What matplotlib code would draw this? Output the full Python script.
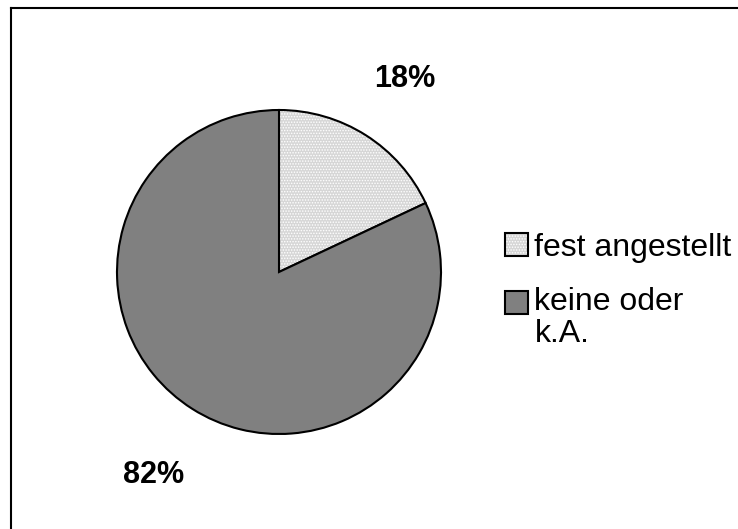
import matplotlib
matplotlib.use("Agg")
import matplotlib.pyplot as plt
from matplotlib.lines import Line2D
from matplotlib.colors import to_rgba
from matplotlib.transforms import ScaledTranslation

plt.rcParams['font.family'] = ['Liberation Sans', 'DejaVu Sans']
plt.rcParams['hatch.linewidth'] = 0.7

categories = ["fest angestellt", "keine oder\nk.A."]
values = [18, 82]
face_colors = ["#d6d6d6", "#808080"]
hatches = ["......", None]

W, H = 738, 529
fig = plt.figure(figsize=(W / 100, H / 100), dpi=100)

# pie axes: centre (279, 272) px, radius 162 px
cx, cy, r = 279, 272, 162
ax = fig.add_axes([(cx - r) / W, (H - cy - r) / H, 2 * r / W, 2 * r / H])

wedges, texts, autotexts = ax.pie(
    values, colors=face_colors, startangle=90, counterclock=False,
    autopct='%d%%', pctdistance=1.45,
    wedgeprops=dict(edgecolor='black', linewidth=1.5),
    textprops=dict(fontsize=22, fontweight='bold', color='black'),
)
for w, h in zip(wedges, hatches):
    if h:
        w.set_hatch(h)
        w._hatch_color = to_rgba('#ffffff')
# nudge the percentage labels slightly downward
shift = ScaledTranslation(0, -5 / 100, fig.dpi_scale_trans)
for t in autotexts:
    t.set_transform(ax.transData + shift)
ax.set_xlim(-1, 1)
ax.set_ylim(-1, 1)
ax.set_aspect('equal')

leg = fig.legend(
    wedges, categories, loc='upper left',
    bbox_to_anchor=(505 / W, 1 - 233 / H),
    frameon=False, fontsize=23,
    handlelength=0.72, handleheight=0.72, handletextpad=0.2,
    labelspacing=0.75, borderpad=0, borderaxespad=0,
)
for t in leg.texts:
    t.set_linespacing(1.1)
# keep the marker of the two-line entry level with its first line
h2 = leg.legend_handles[1]
h2.set_y(h2.get_y() + 11.5)

# thin frame on the top and left
fig.add_artist(Line2D([11 / W, 1.0], [1 - 8 / H, 1 - 8 / H], color='black', lw=1.5,
                      transform=fig.transFigure))
fig.add_artist(Line2D([11 / W, 11 / W], [1 - 8 / H, 0.0], color='black', lw=1.5,
                      transform=fig.transFigure))

fig.savefig('out.png', dpi=100)
